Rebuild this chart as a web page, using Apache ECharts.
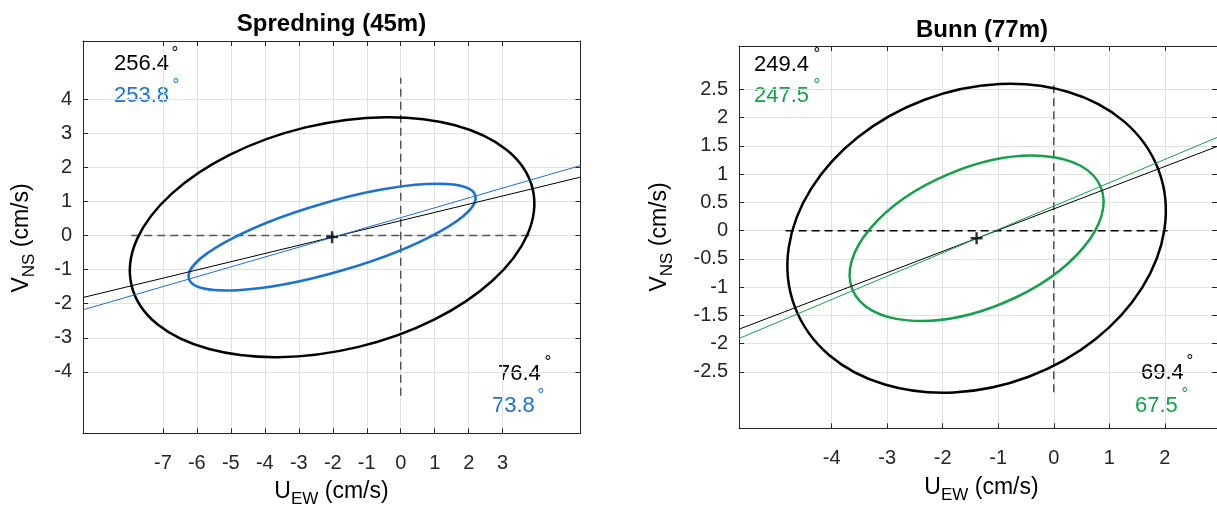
<!DOCTYPE html>
<html>
<head>
<meta charset="utf-8">
<title>Spredning / Bunn</title>
<script src="https://cdn.jsdelivr.net/npm/echarts@6/dist/echarts.min.js"></script>
<style>
  html, body { margin: 0; padding: 0; background: #fff; }
  #chart { width: 1217px; height: 511px; }
</style>
</head>
<body>
<div id="chart"></div>
<script>
// Spredning (45m)
const spredCenter = [-2.02, -0.05];
const spredDirections = [76.4, 73.8]; // hovedakse: svart, blå
const spredOpposite = [256.4, 253.8];
const spredMajor = [6.07, 4.39];
const spredMinor = [3.31, 1.02];
const spredAxisBlack = [[-9.35, -1.82], [5.29, 1.71]];
const spredAxisBlue = [[-9.35, -2.18], [5.29, 2.05]];
const spredCrossH = [[-7.93, 0], [3.92, 0]];
const spredCrossV = [[0, -4.70], [0, 4.62]];
const spredXTicks = [-7, -6, -5, -4, -3, -2, -1, 0, 1, 2, 3];
const spredYTicks = [-4, -3, -2, -1, 0, 1, 2, 3, 4];

// Bunn (77m)
const bunnCenter = [-1.39, -0.135];
const bunnDirections = [69.4, 67.5]; // hovedakse: svart, grønn
const bunnOpposite = [249.4, 247.5];
const bunnMajor = [3.5, 2.42];
const bunnMinor = [2.62, 1.24];
const bunnAxisBlack = [[-5.67, -1.745], [2.94, 1.49]];
const bunnAxisGreen = [[-5.67, -1.91], [2.94, 1.65]];
const bunnCrossH = [[-4.83, 0], [2.05, 0]];
const bunnCrossV = [[0, -2.86], [0, 2.60]];
const bunnXTicks = [-4, -3, -2, -1, 0, 1, 2];
const bunnYTicks = [-2.5, -2, -1.5, -1, -0.5, 0, 0.5, 1, 1.5, 2, 2.5];

const FONT = '"Liberation Sans", Arial, Helvetica, sans-serif';
const AX = '#262626';
const GRIDC = '#e2e2e2';
const BLUE = '#1a72d2';
const GREEN = '#15a04a';
const DASH = '#555555';

const chart = echarts.init(document.getElementById('chart'));

function ellipseRender(color) {
  return function (params, api) {
    const c = api.coord([api.value(0), api.value(1)]);
    const s = api.size([api.value(2), api.value(3)]);
    return {
      type: 'ellipse',
      x: c[0],
      y: c[1],
      rotation: api.value(4) * Math.PI / 180,
      shape: { cx: 0, cy: 0, rx: s[0] / 2, ry: s[1] / 2 },
      style: { fill: 'none', stroke: color, lineWidth: 2.5 },
    };
  };
}

function ellipse(idx, center, dir, major, minor, color) {
  return {
    type: 'custom',
    xAxisIndex: idx,
    yAxisIndex: idx,
    renderItem: ellipseRender(color),
    data: [[center[0], center[1], major * 2, minor * 2, 90 - dir]],
    z: 3,
  };
}

function line(idx, data, color, width, dashed) {
  return {
    type: 'line',
    xAxisIndex: idx,
    yAxisIndex: idx,
    data: data,
    showSymbol: false,
    silent: true,
    lineStyle: { color: color, width: width, type: dashed ? [8, 5] : 'solid' },
    z: dashed ? 2 : 4,
  };
}

// rutenett fra tikkverdiene
function gridLines(idx, center, xt, yt) {
  return {
    type: 'line',
    xAxisIndex: idx,
    yAxisIndex: idx,
    data: [center],
    showSymbol: false,
    silent: true,
    lineStyle: { opacity: 0 },
    z: 0,
    markLine: {
      z: 0,
      silent: true,
      symbol: ['none', 'none'],
      label: { show: false },
      lineStyle: { type: 'solid', color: GRIDC, width: 1 },
      data: xt.map(v => ({ xAxis: v })).concat(yt.map(v => ({ yAxis: v }))),
    },
  };
}

function plus(idx, center) {
  return {
    type: 'scatter',
    xAxisIndex: idx,
    yAxisIndex: idx,
    data: [center],
    symbol: 'path://M4,0H6V10H4Z M0,4H10V6H0Z',
    symbolSize: 12,
    itemStyle: { color: '#000' },
    z: 5,
  };
}

function xAxes(grid, min, max, ticks) {
  return [
    {
      gridIndex: grid, type: 'value', position: 'bottom', min: min, max: max,
      axisLine: { onZero: false, lineStyle: { color: AX, width: 1 } },
      axisTick: { inside: true, length: 5, customValues: ticks, lineStyle: { color: AX } },
      axisLabel: { customValues: ticks, margin: 20, fontSize: 20, color: AX, fontFamily: FONT },
      splitLine: { show: false },
    },
    {
      gridIndex: grid, type: 'value', position: 'top', min: min, max: max,
      axisLine: { onZero: false, lineStyle: { color: AX, width: 1 } },
      axisTick: { inside: true, length: 5, customValues: ticks, lineStyle: { color: AX } },
      axisLabel: { show: false },
      splitLine: { show: false },
    },
  ];
}

function yAxes(grid, min, max, ticks) {
  return [
    {
      gridIndex: grid, type: 'value', position: 'left', min: min, max: max,
      axisLine: { onZero: false, lineStyle: { color: AX, width: 1 } },
      axisTick: { inside: true, length: 5, customValues: ticks, lineStyle: { color: AX } },
      axisLabel: { customValues: ticks, margin: 11, fontSize: 20, color: AX, fontFamily: FONT },
      splitLine: { show: false },
    },
    {
      gridIndex: grid, type: 'value', position: 'right', min: min, max: max,
      axisLine: { onZero: false, lineStyle: { color: AX, width: 1 } },
      axisTick: { inside: true, length: 5, customValues: ticks, lineStyle: { color: AX } },
      axisLabel: { show: false },
      splitLine: { show: false },
    },
  ];
}

// tekst med gradtegn
function angleText(x, y, value, degX, degY, color) {
  return [
    {
      type: 'text', x: x, y: y,
      style: { text: value.toFixed(1), fill: color, font: '22px ' + FONT, align: 'left', verticalAlign: 'middle' },
    },
    {
      type: 'text', x: degX, y: degY,
      style: { text: '°', fill: color, font: '17px ' + FONT, align: 'center', verticalAlign: 'middle' },
    },
  ];
}

const nameRich = {
  m: { fontSize: 23, fontFamily: FONT, color: AX, lineHeight: 32, verticalAlign: 'middle' },
  s: { fontSize: 17, fontFamily: FONT, color: AX, lineHeight: 17, verticalAlign: 'bottom' },
};

function axisName(x, y, main, sub, rotated) {
  return {
    type: 'text', x: x, y: y, rotation: rotated ? Math.PI / 2 : 0,
    style: {
      text: '{m|' + main + '}{s|' + sub + '}{m| (cm/s)}',
      rich: nameRich, align: 'center', verticalAlign: 'middle',
    },
  };
}

function title(x, y, text) {
  return {
    type: 'text', x: x, y: y,
    style: { text: text, fill: '#000', font: 'bold 24px ' + FONT, align: 'center', verticalAlign: 'middle' },
  };
}

const option = {
  backgroundColor: '#fff',
  animation: false,
  grid: [
    { left: 83, top: 41, width: 497.5, height: 392.3 },
    { left: 739, top: 46, width: 486, height: 382.3 },
  ],
  xAxis: xAxes(0, -9.35, 5.29, spredXTicks).concat(xAxes(1, -5.67, 2.94, bunnXTicks)),
  yAxis: yAxes(0, -5.8, 5.7, spredYTicks).concat(yAxes(1, -3.5, 3.27, bunnYTicks)),
  series: [
    gridLines(0, spredCenter, spredXTicks, spredYTicks),
    line(0, spredCrossH, DASH, 1.5, true),
    line(0, spredCrossV, DASH, 1.5, true),
    ellipse(0, spredCenter, spredDirections[0], spredMajor[0], spredMinor[0], '#000'),
    ellipse(0, spredCenter, spredDirections[1], spredMajor[1], spredMinor[1], BLUE),
    line(0, spredAxisBlack, '#000', 1),
    line(0, spredAxisBlue, BLUE, 1),
    plus(0, spredCenter),

    gridLines(2, bunnCenter, bunnXTicks, bunnYTicks),
    line(2, bunnCrossH, '#000', 1.5, true),
    line(2, bunnCrossV, DASH, 1.5, true),
    ellipse(2, bunnCenter, bunnDirections[0], bunnMajor[0], bunnMinor[0], '#000'),
    ellipse(2, bunnCenter, bunnDirections[1], bunnMajor[1], bunnMinor[1], GREEN),
    line(2, bunnAxisBlack, '#000', 1),
    line(2, bunnAxisGreen, GREEN, 1),
    plus(2, bunnCenter),
  ],
  graphic: [
    title(331.5, 24, 'Spredning (45m)'),
    title(982, 30, 'Bunn (77m)'),
    axisName(331.5, 492, 'U', 'EW', false),
    axisName(981.5, 488, 'U', 'EW', false),
    axisName(22, 238, 'V', 'NS', true),
    axisName(660, 237, 'V', 'NS', true),
  ]
    .concat(angleText(114, 64, spredOpposite[0], 175, 53, '#000'))
    .concat(angleText(114, 96, spredOpposite[1], 176, 85, BLUE))
    .concat(angleText(498, 374, spredDirections[0], 548, 362, '#000'))
    .concat(angleText(492, 406, spredDirections[1], 541, 395, BLUE))
    .concat(angleText(754, 65, bunnOpposite[0], 817, 54, '#000'))
    .concat(angleText(754, 96, bunnOpposite[1], 817, 85, GREEN))
    .concat(angleText(1141, 373, bunnDirections[0], 1190, 361, '#000'))
    .concat(angleText(1135, 406, bunnDirections[1], 1185, 394, GREEN)),
};

chart.setOption(option);
</script>
</body>
</html>
